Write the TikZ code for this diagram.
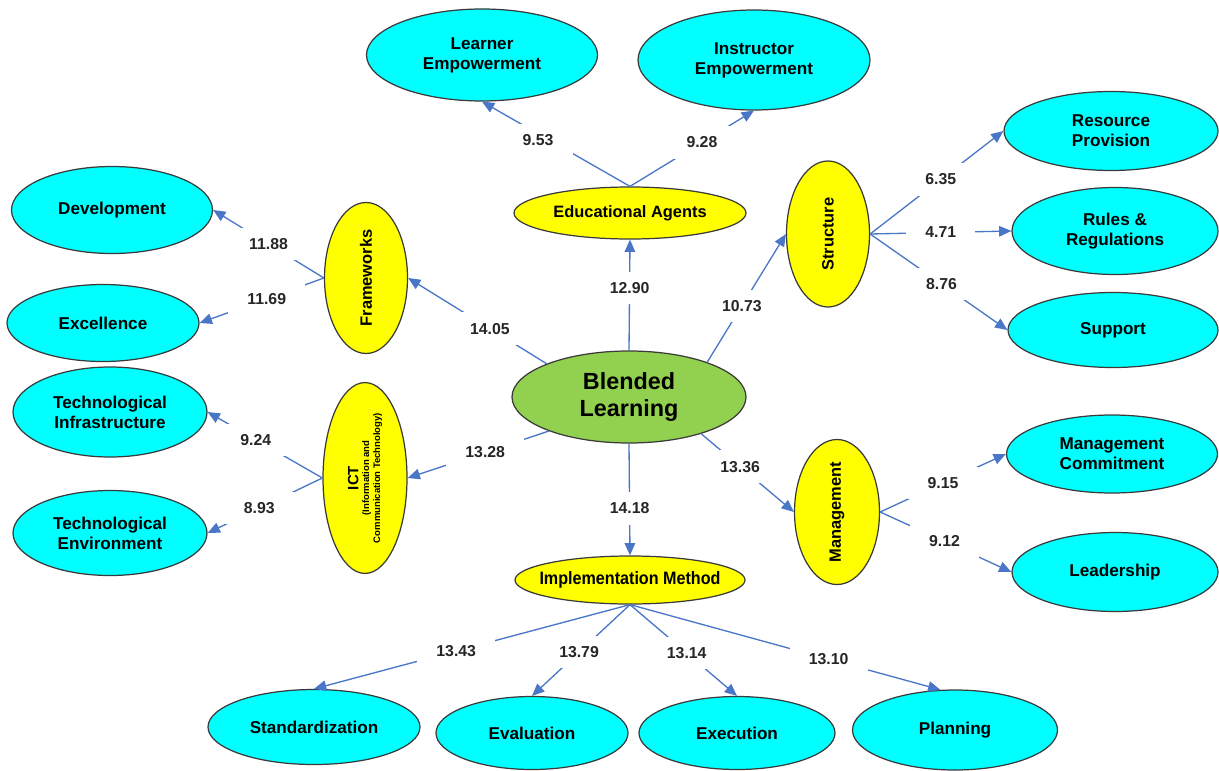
\documentclass[tikz,border=0pt]{standalone}
\usepackage{fontspec}
\setmainfont{Liberation Sans}
\usetikzlibrary{shapes.geometric,arrows.meta}
\definecolor{cyanfill}{HTML}{00FFFF}
\definecolor{yellowfill}{HTML}{FFFF00}
\definecolor{greenfill}{HTML}{92D050}
\definecolor{edgeblue}{HTML}{4A76C8}
\definecolor{outline}{HTML}{3A3A3A}
\begin{document}
\begin{tikzpicture}[x=0.02cm,y=-0.02cm,
  ell/.style 2 args={ellipse, draw=outline, line width=0.7pt, inner sep=0pt,
    minimum width=#1*0.02cm, minimum height=#2*0.02cm, align=center,
    font=\bfseries\fontsize{9.75}{11.3}\selectfont},
  leaf/.style={fill=cyanfill},
  mid/.style={fill=yellowfill, font=\bfseries\fontsize{9.35}{11}\selectfont},
  core/.style={fill=greenfill, font=\bfseries\fontsize{13.3}{15.9}\selectfont},
  edge/.style={draw=edgeblue, line width=0.75pt, -{Triangle[length=7pt,width=6pt]}},
  lbl/.style={fill=white, inner xsep=11pt, inner ysep=6pt,
    font=\bfseries\fontsize{9}{10}\selectfont, text=black!85}]
\useasboundingbox (0,0) rectangle (1219,770);

% central node
\node[ell={234}{92}, core] (bl) at (629,397) {Blended\\Learning};

% intermediate (yellow) nodes
\node[ell={232}{52}, mid] (ea) at (630,213) {Educational Agents};
\node[ell={230}{48}, mid] (im) at (630,580)
  {\makebox[3cm]{\scalebox{0.9}[1]{\fontsize{10.2}{11}\selectfont Implementation Method}}};
\node[ell={83}{151}, mid] (fw) at (366,278) {\rotatebox{90}{Frameworks}};
\node[ell={84}{157}, mid] (ict) at (365,478) {\rotatebox{90}{\parbox{2.7cm}{\centering
   \fontsize{8.5}{9.5}\selectfont ICT\par
   \fontsize{5.4}{6.2}\selectfont (Information and\par Communication Technology)}}};
\node[ell={83}{146}, mid] (str) at (828,234) {\rotatebox{90}{Structure}};
\node[ell={85}{145}, mid] (mg) at (837,512) {\rotatebox{90}{Management}};

% leaf (cyan) nodes
\node[ell={231}{92}, leaf] (le) at (482,55) {Learner\\Empowerment};
\node[ell={232}{100}, leaf] (ie) at (754,60) {Instructor\\Empowerment};
\node[ell={201}{87}, leaf] (dev) at (112,210) {Development};
\node[ell={192}{77}, leaf] (exc) at (103,323) {Excellence};
\node[ell={194}{90}, leaf] (ti) at (110,412) {Technological\\Infrastructure};
\node[ell={194}{85}, leaf] (te) at (110,533) {Technological\\Environment};
\node[ell={214}{79}, leaf] (rp) at (1111,131) {Resource\\Provision};
\node[ell={206}{87}, leaf] (rr) at (1115,231) {Rules \&\\Regulations};
\node[ell={210}{75}, leaf] (sup) at (1113,330) {Support};
\node[ell={211}{78}, leaf] (mc) at (1112,454) {Management\\Commitment};
\node[ell={206}{79}, leaf] (ld) at (1115,572) {Leadership};
\node[ell={212}{75}, leaf] (sd) at (314,727) {Standardization};
\node[ell={192}{73}, leaf] (ev) at (532,733) {Evaluation};
\node[ell={196}{73}, leaf] (ex) at (737,733) {Execution};
\node[ell={205}{80}, leaf] (pl) at (955,730) {Planning};

% edges from the centre
\draw[edge] (bl.north) -- node[lbl,pos=0.56]{12.90} (ea.south);
\draw[edge] (bl.158) -- node[lbl,pos=0.41]{14.05} (fw.east);
\draw[edge] (bl.203) -- node[lbl,pos=0.45]{13.28} (ict.east);
\draw[edge] (bl.24) -- node[lbl,pos=0.44]{10.73} (str.west);
\draw[edge] (bl.333) -- node[lbl,pos=0.42]{13.36} (mg.west);
\draw[edge] (bl.south) -- node[lbl,pos=0.58]{14.18} (im.north);

% Educational Agents
\draw[edge] (ea.north) -- node[lbl,pos=0.55,xshift=-6pt]{9.53} (le.south);
\draw[edge] (ea.north) -- node[lbl,pos=0.58]{9.28} (ie.south);

% Frameworks
\draw[edge] (fw.west) -- node[lbl,pos=0.5]{11.88} (dev.east);
\draw[edge] (fw.west) -- node[lbl,pos=0.46]{11.69} (exc.east);

% ICT
\draw[edge] (ict.west) -- node[lbl,pos=0.58]{9.24} (ti.east);
\draw[edge] (ict.west) -- node[lbl,pos=0.55]{8.93} (te.east);

% Structure
\draw[edge] (str.east) -- node[lbl,pos=0.53]{6.35} (rp.west);
\draw[edge] (str.east) -- node[lbl,pos=0.5]{4.71} (rr.west);
\draw[edge] (str.east) -- node[lbl,pos=0.52]{8.76} (sup.west);

% Management
\draw[edge] (mg.east) -- node[lbl,pos=0.5]{9.15} (mc.west);
\draw[edge] (mg.east) -- node[lbl,pos=0.49]{9.12} (ld.west);

% Implementation Method
\draw[edge] (im.south) -- node[lbl,pos=0.55]{13.43} (sd.north);
\draw[edge] (im.south) -- node[lbl,pos=0.52]{13.79} (ev.north);
\draw[edge] (im.south) -- node[lbl,pos=0.53]{13.14} (ex.north);
\draw[edge] (im.south) -- node[lbl,pos=0.64]{13.10} (pl.110);
\end{tikzpicture}
\end{document}
